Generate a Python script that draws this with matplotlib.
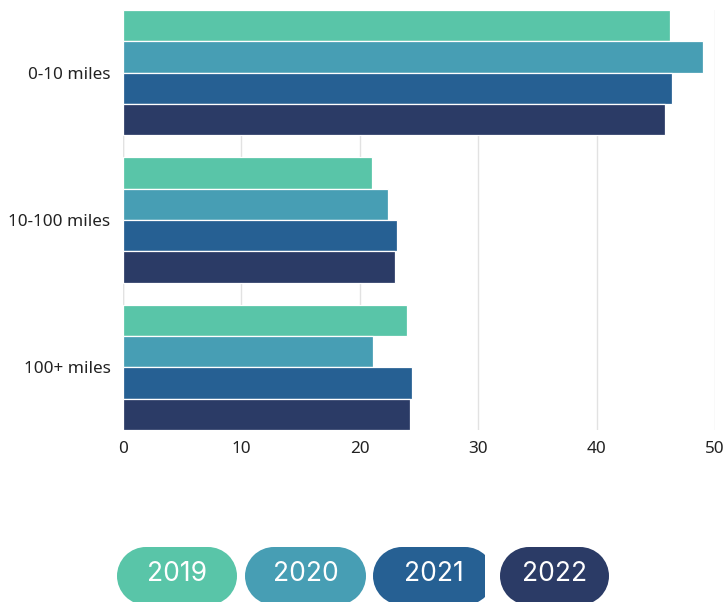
import numpy as np
import matplotlib.pyplot as plt
from matplotlib.patches import Rectangle, Ellipse

# distance bands and yearly shares
categories = ['0-10 miles', '10-100 miles', '100+ miles']
years = ['2019', '2020', '2021', '2022']
values_2019 = [46.2, 21.0, 24.0]
values_2020 = [49.0, 22.4, 21.1]
values_2021 = [46.4, 23.1, 24.4]
values_2022 = [45.8, 23.0, 24.2]
colors = ['#59c5a8', '#479eb4', '#266093', '#2b3b66']

series = [values_2019, values_2020, values_2021, values_2022]

W, H = 727, 602
fig = plt.figure(figsize=(W / 100, H / 100), dpi=100)
plt.rcParams['font.family'] = ['Noto Sans', 'DejaVu Sans']

# main axes placed in pixel terms
left, right, top, bottom = 123, 715, 10, 430
ax = fig.add_axes([left / W, 1 - bottom / H, (right - left) / W, (bottom - top) / H])

group = 0.85
bh = group / len(series)
y = np.arange(len(categories))
for i, (vals, c) in enumerate(zip(series, colors)):
    offs = -group / 2 + bh * (i + 0.5)
    ax.barh(y + offs, vals, height=bh, color=c, edgecolor='white', linewidth=0.9, zorder=3)

ax.set_ylim(len(categories) - 1 + group / 2, -group / 2)
ax.set_xlim(0, 50)
ax.set_xticks([0, 10, 20, 30, 40, 50])
ax.set_yticks(y)
ax.set_yticklabels(categories)
ax.grid(axis='x', color='#e2e2e2', linewidth=1, zorder=0)
for s in ax.spines.values():
    s.set_visible(False)
ax.axvline(0, color='#e2e2e2', linewidth=1, zorder=0)
ax.tick_params(axis='both', length=0, labelsize=12.3, colors='#222222')
ax.tick_params(axis='y', pad=9)
ax.tick_params(axis='x', pad=8)

# pill-shaped legend drawn in a full-figure pixel axes
lax = fig.add_axes([0, 0, 1, 1], zorder=-1)
lax.set_xlim(0, W)
lax.set_ylim(H, 0)
lax.axis('off')
pill_x = [117, 245, 373, 500]
pill_w = [120, 121, 121, 109]
pill_top, pill_h = 547, 58
r = pill_h / 2
cy = pill_top + r
for yr, c, x0, w in zip(years, colors, pill_x, pill_w):
    parts = [Rectangle((x0 + r, pill_top), w - 2 * r, pill_h),
             Ellipse((x0 + r, cy), pill_h, pill_h),
             Ellipse((x0 + w - r, cy), pill_h, pill_h)]
    for p in parts:
        p.set_facecolor(c)
        p.set_edgecolor('none')
        lax.add_patch(p)
        if yr == '2021':
            # the third pill is cut off flat on its right side
            p.set_clip_path(Rectangle((0, 0), 485, H, transform=lax.transData))
    lax.text(x0 + w / 2, 574, yr, color='white', fontsize=19,
             family=['Inter', 'DejaVu Sans'], ha='center', va='center')

fig.savefig('out.png', dpi=100)
